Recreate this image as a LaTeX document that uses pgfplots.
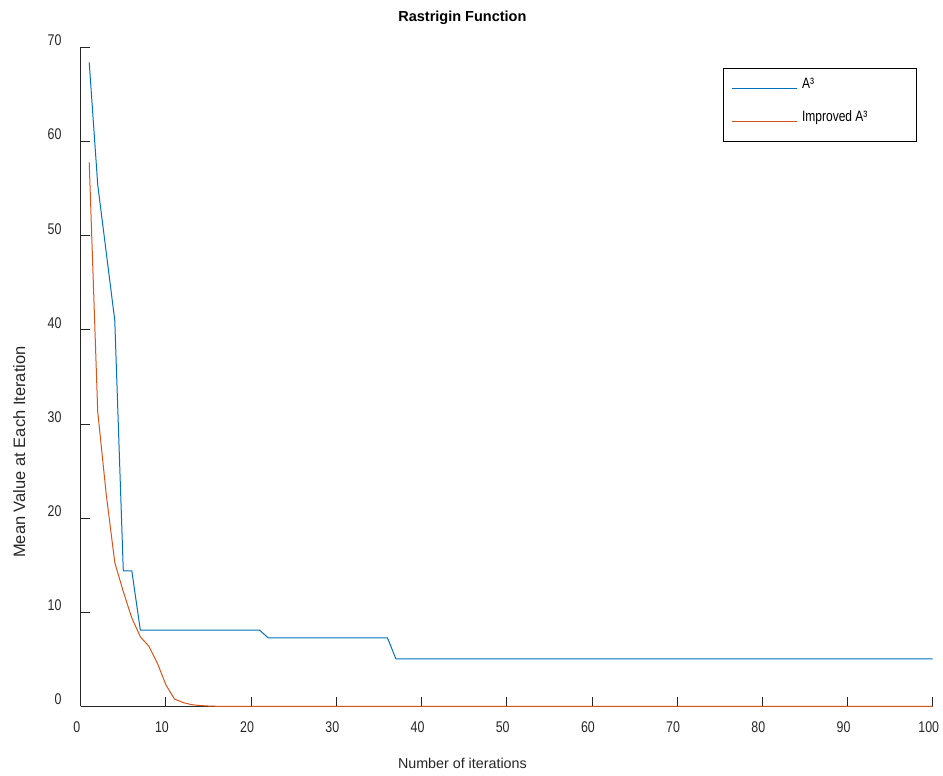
\documentclass[border=0pt]{standalone}
\usepackage{pgfplots}
\pgfplotsset{compat=1.18}
\usepackage{fontspec}
\setmainfont{Liberation Sans}
\newfontfamily\narrowfont[FakeStretch=0.8]{Liberation Sans}
\definecolor{mblue}{HTML}{0072BD}
\definecolor{morange}{HTML}{D95319}
\definecolor{axgray}{HTML}{262626}
\begin{document}
\begin{tikzpicture}
\useasboundingbox (0pt,0pt) rectangle (943pt,776pt);
\begin{axis}[
  at={(80.7pt,69.5pt)}, anchor=south west,
  scale only axis, width=852pt, height=659.1pt,
  xmin=0, xmax=100, ymin=0, ymax=70,
  axis x line*=bottom, axis y line*=left,
  axis line style={axgray, line width=0.8pt},
  xtick={0,10,...,100}, ytick={0,10,...,70},
  tick align=inside, major tick length=9pt,
  tick style={axgray, line width=0.8pt},
  /pgf/number format/assume math mode=true,
  ticklabel style={font=\narrowfont\fontsize{15.5}{18}\selectfont, text=axgray, inner sep=0pt},
  xticklabel style={anchor=north, yshift=-15pt, xshift=-4pt},
  yticklabel style={anchor=east, xshift=-19pt, yshift=7pt},
  title={Rastrigin Function},
  title style={font=\bfseries\fontsize{14.5}{17}\selectfont, at={(0.448,1.0360)}, anchor=center},
  xlabel={Number of iterations},
  xlabel style={font=\fontsize{14.3}{17}\selectfont, text=axgray, at={(0.448,-0.0861)}, anchor=center},
  ylabel={Mean Value at Each Iteration},
  ylabel style={font=\fontsize{16.5}{19}\selectfont, text=axgray, at={(-0.072,0.386)}, anchor=center, rotate=0},
  legend image code/.code={\draw[#1] (0pt,0pt) -- (65pt,0pt);},
  legend cell align=left,
  legend style={at={(0.981,0.969)}, anchor=north east, draw=black, line width=0.8pt, fill=white,
    inner xsep=8pt, inner ysep=10pt, row sep=13pt, column sep=5pt,
    font=\narrowfont\fontsize{15}{18}\selectfont,
    nodes={inner sep=0pt, text height=10pt, text depth=10pt}},
]
\addplot[mblue, line width=1pt, sharp plot] coordinates {
(1,68.4) (2,55.4) (3,48.2) (4,41.0) (5,14.4) (6,14.4) (7,8.1) (21,8.1) (22,7.3) (36,7.3) (37,5.05) (100,5.05)};
\addlegendentry{\makebox[106pt][l]{A³}}
\addplot[morange, line width=1pt, sharp plot] coordinates {
(1,57.8) (2,31.3) (3,22.5) (4,15.3) (5,12.2) (6,9.4) (7,7.4) (8,6.4) (9,4.6) (10,2.3) (11,0.8) (12,0.42) (13,0.2) (14,0.1) (15,0.05) (16,0.02) (17,0.01) (18,0) (100,0)};
\addlegendentry{\makebox[106pt][l]{Improved A³}}
\end{axis}
\end{tikzpicture}
\end{document}
